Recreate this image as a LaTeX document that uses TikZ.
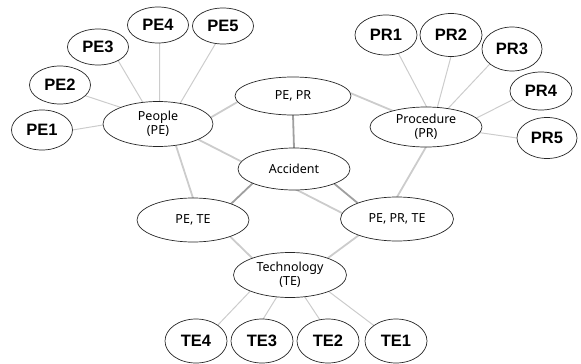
\documentclass[tikz,border=0pt]{standalone}
\usepackage{fontspec}
\setmainfont{Noto Sans}
\newfontfamily\leaffont{Liberation Sans}
\usetikzlibrary{shapes.geometric,backgrounds}
\tikzset{
  bubble/.style={ellipse,draw=black!85,line width=0.7pt,fill=white,inner sep=0pt,outer sep=0pt,align=center},
  leaf/.style={bubble,minimum width=61pt,minimum height=39pt,font=\leaffont\fontsize{16.5}{20}\selectfont\bfseries},
  mid/.style={bubble,minimum width=112pt,minimum height=43pt,font=\fontsize{12.5}{14}\selectfont},
  leafedge/.style={draw=gray!40,line width=1pt},
  softedge/.style={draw=gray!40,line width=1.8pt},
  darkedge/.style={draw=gray!75,line width=1.8pt}
}
\begin{document}
\begin{tikzpicture}[x=1pt,y=-1pt]
\useasboundingbox (0,0) rectangle (581,364);
% central nodes
\node[mid,minimum width=110pt,minimum height=45pt] (People) at (158,124) {People\\(PE)};
\node[mid,minimum width=116pt,minimum height=38pt] (PEPR) at (293,96) {PE, PR};
\node[mid,minimum width=112pt,minimum height=40pt] (Proc) at (426,127) {Procedure\\(PR)};
\node[mid,minimum width=112pt,minimum height=42pt] (Acc) at (294,169) {Accident};
\node[mid,minimum width=112pt,minimum height=44pt] (PETE) at (193,220) {PE, TE};
\node[mid,minimum width=113pt,minimum height=44pt] (PEPRTE) at (397,219) {PE, PR, TE};
\node[mid,minimum width=113pt,minimum height=45pt] (Tech) at (290,275) {Technology\\(TE)};
% leaves
\node[leaf,minimum height=40pt] (PE1) at (42,130) {PE1};
\node[leaf,minimum height=38pt] (PE2) at (60,85) {PE2};
\node[leaf,minimum height=36pt] (PE3) at (98,47) {PE3};
\node[leaf,minimum height=36pt] (PE4) at (158,25) {PE4};
\node[leaf,minimum height=36pt] (PE5) at (223,26) {PE5};
\node[leaf,minimum width=62pt,minimum height=40pt] (PR1) at (386,35) {PR1};
\node[leaf,minimum width=62pt,minimum height=43pt] (PR2) at (451,35) {PR2};
\node[leaf,minimum width=60pt,minimum height=44pt] (PR3) at (512,49) {PR3};
\node[leaf,minimum width=62pt,minimum height=38pt] (PR4) at (541,91) {PR4};
\node[leaf,minimum width=60pt,minimum height=41pt] (PR5) at (547,138) {PR5};
\node[leaf,minimum width=62pt,minimum height=44pt] (TE4) at (196,341) {TE4};
\node[leaf,minimum width=62pt,minimum height=44pt] (TE3) at (262,341) {TE3};
\node[leaf,minimum width=62pt,minimum height=44pt] (TE2) at (328,341) {TE2};
\node[leaf,minimum width=62pt,minimum height=44pt] (TE1) at (396,341) {TE1};
\begin{pgfonlayer}{background}
% people leaves
\draw[leafedge] (PE1.east) -- (People.181);
\draw[leafedge] (PE2.-23) -- (People.156);
\draw[leafedge] (PE3.-34) -- (People.125);
\draw[leafedge] (PE4.-85) -- (People.86);
\draw[leafedge] (PE5.247) -- (People.43);
% procedure leaves
\draw[leafedge] (PR1.-56) -- (Proc.88);
\draw[leafedge] (PR2.south) -- (Proc.60);
\draw[leafedge] (PR3.214) -- (Proc.40);
\draw[leafedge] (PR4.197) -- (Proc.10);
\draw[leafedge] (PR5.180) -- (Proc.-6);
% technology leaves
\draw[leafedge] (Tech.202) -- (TE4.36);
\draw[leafedge] (Tech.239) -- (TE3.87);
\draw[leafedge] (Tech.-56) -- (TE2.111);
\draw[leafedge] (Tech.-23) -- (TE1.145);
% middle connections
\draw[softedge] (People.7) -- (PEPR.186);
\draw[softedge] (PEPR.3) -- (Proc.154);
\draw[softedge] (People.-21) -- (PEPRTE.174);
\draw[softedge] (People.-50) -- (PETE.north);
\draw[softedge] (Proc.south) -- (PEPRTE.north);
\draw[softedge] (PETE.-24) -- (Tech.156);
\draw[softedge] (PEPRTE.203) -- (Tech.24);
\draw[darkedge] (PEPR.south) -- (Acc.north);
\draw[darkedge] (Acc.199) -- (PETE.23);
\draw[darkedge] (Acc.-20) -- (PEPRTE.158);
\end{pgfonlayer}
\end{tikzpicture}
\end{document}
